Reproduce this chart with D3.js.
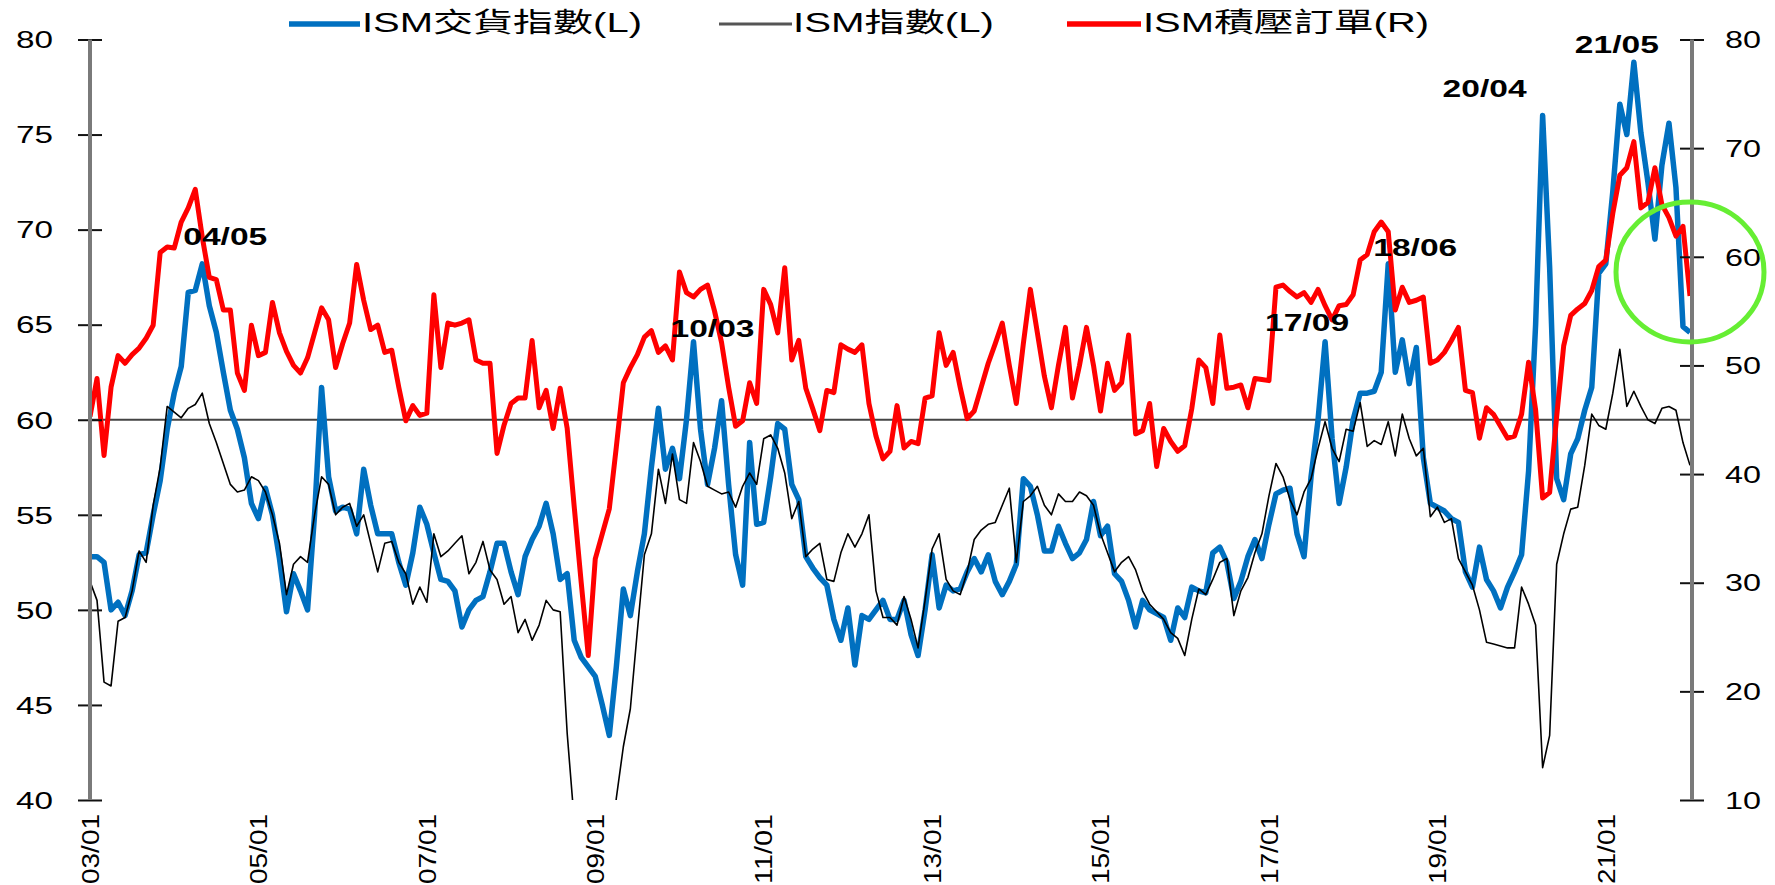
<html>
<head>
<meta http-equiv="Content-Type" content="text/html; charset=utf-8">
<title>ISM</title>
<script src="https://cdnjs.cloudflare.com/ajax/libs/d3/7.8.5/d3.min.js"></script>
<style>
body, html{
  margin: 0;
  padding: 0;
  background: white;
  overflow: hidden;
}
text{
  font-family: "Liberation Sans", Arial, "Noto Sans CJK TC", sans-serif;
}
</style>
</head>
<body>
<div id="chart"></div>
<script type="text/javascript">

// monthly, 2003/01 .. 2022/01
var startYear = 2003

var deliveries = [
  52.8,52.8,52.5,50.0,50.4,49.7,51.0,52.9,53.0,55.0,56.8,59.5,
  61.4,62.8,66.7,66.8,68.2,66.0,64.6,62.5,60.5,59.5,58.0,55.6,
  54.8,56.4,55.0,52.7,49.9,51.9,51.0,50.0,55.0,61.7,57.0,55.2,
  55.4,55.3,54.0,57.4,55.5,54.0,54.0,54.0,52.5,51.3,53.0,55.4,
  54.5,53.0,51.6,51.5,51.0,49.1,50.0,50.5,50.7,52.0,53.5,53.5,
  52.0,50.8,52.8,53.7,54.4,55.6,54.0,51.6,51.9,48.4,47.5,47.0,
  46.5,45.0,43.4,47.0,51.1,49.7,52.0,54.0,57.5,60.6,57.4,58.5,
  56.9,60.0,64.1,59.5,56.6,58.5,61.0,56.6,52.9,51.3,58.8,54.5,
  54.6,57.0,59.8,59.5,56.6,55.8,52.8,52.2,51.7,51.3,49.5,48.4,
  50.1,47.1,49.7,49.5,50.0,50.5,49.5,49.5,50.5,48.7,47.6,50.0,
  52.9,50.1,51.3,51.0,51.1,52.0,52.7,52.0,52.9,51.5,50.8,51.5,
  52.4,56.9,56.5,55.0,53.1,53.1,54.4,53.5,52.7,53.0,53.7,55.7,
  53.9,54.4,51.9,51.5,50.5,49.1,50.5,50.0,49.8,49.6,48.4,50.1,
  49.6,51.2,51.0,50.9,53.0,53.3,52.5,50.6,51.5,52.8,53.7,52.7,
  54.5,56.1,56.3,56.4,54.0,52.8,57.0,60.0,64.1,59.0,55.6,57.5,
  60.0,61.4,61.4,61.5,62.5,68.2,62.5,64.2,61.9,63.8,58.0,55.6,
  55.4,55.2,54.8,54.6,52.0,51.2,53.3,51.6,51.0,50.1,51.2,52.0,
  52.9,57.3,65.0,76.0,68.0,56.9,55.8,58.2,59.0,60.5,61.7,67.7,
  68.2,72.0,76.6,75.0,78.8,75.1,72.5,69.5,73.4,75.6,72.2,64.9,
  64.6
]

var pmi = [
  51.5,50.5,46.2,46.0,49.4,49.6,51.0,53.1,52.5,55.5,57.5,60.7,
  60.4,60.1,60.6,60.8,61.4,59.8,58.8,57.7,56.6,56.2,56.3,57.0,
  56.8,56.2,55.0,53.5,50.8,52.4,52.8,52.5,55.0,57.0,56.6,55.0,
  55.4,55.6,54.4,55.0,53.5,52.0,53.5,53.6,52.5,51.9,50.3,51.2,
  50.4,54.0,52.8,53.1,53.5,53.9,51.9,52.5,53.6,52.1,51.6,50.3,
  50.7,48.8,49.5,48.4,49.2,50.5,50.0,49.9,43.5,38.9,36.2,33.1,
  35.6,35.8,36.3,40.1,42.8,44.8,48.9,52.9,54.0,57.4,55.6,58.2,
  55.8,55.6,58.8,57.8,56.5,56.3,56.1,56.2,55.4,56.5,57.2,56.6,
  59.0,59.2,58.5,57.2,54.8,55.7,52.8,53.2,53.5,51.6,51.5,53.0,
  54.0,53.3,54.0,55.0,51.0,49.6,49.6,49.2,50.7,49.5,48.0,50.5,
  53.2,54.0,51.6,51.0,50.8,52.0,53.7,54.2,54.5,54.6,55.5,56.4,
  52.5,55.7,56.0,56.5,55.5,55.0,56.1,55.7,55.7,56.2,56.0,55.5,
  54.0,53.0,52.0,52.5,52.8,52.1,51.0,50.3,49.9,49.5,48.8,48.5,
  47.6,49.5,51.1,50.8,51.6,52.5,52.7,49.7,51.0,51.7,53.0,54.0,
  56.0,57.7,57.0,55.8,55.0,56.2,56.9,58.5,59.9,58.5,57.8,59.5,
  59.4,60.9,58.6,58.9,58.7,59.9,58.1,60.3,59.0,58.1,58.5,54.9,
  55.4,54.6,54.8,52.7,52.0,51.3,50.0,48.3,48.2,48.1,48.0,48.0,
  51.2,50.3,49.2,41.7,43.4,52.4,54.0,55.3,55.4,57.6,60.3,59.7,
  59.5,61.4,63.7,60.7,61.5,60.7,60.0,59.8,60.6,60.7,60.5,58.8,
  57.6
]

var backlog = [
  45.3,48.8,41.7,48.0,50.9,50.2,51.0,51.6,52.5,53.7,60.4,60.9,
  60.8,63.2,64.5,66.2,61.8,58.1,57.9,55.1,55.1,49.3,47.7,53.7,
  50.9,51.2,55.8,53.0,51.3,50.0,49.3,50.7,53.0,55.3,54.2,49.8,
  52.0,53.9,59.3,56.0,53.3,53.7,51.2,51.4,48.0,44.9,46.3,45.4,
  45.6,56.5,49.8,53.9,53.7,53.9,54.2,50.5,50.2,50.2,41.9,44.5,
  46.5,47.0,47.0,52.3,46.1,47.7,44.2,47.9,44.2,37.0,30.0,23.3,
  32.2,34.5,36.8,42.5,48.4,49.8,51.0,52.6,53.2,51.2,51.8,50.5,
  58.6,56.7,56.3,57.0,57.4,55.0,52.1,48.0,44.4,44.9,48.4,46.5,
  57.0,55.6,53.0,59.0,50.5,52.3,47.9,46.0,44.0,47.7,47.5,51.9,
  51.5,51.2,51.9,46.5,43.5,41.4,42.1,46.3,42.4,43.0,42.8,47.0,
  47.2,53.0,50.0,51.2,48.0,45.1,45.8,48.0,50.2,52.0,53.9,50.0,
  46.5,52.0,57.0,53.0,49.0,46.1,50.0,53.5,47.0,50.0,53.5,50.0,
  45.8,50.2,47.7,48.4,52.8,43.7,44.0,46.5,40.7,44.2,43.0,42.1,
  42.6,46.0,50.5,49.8,46.5,52.8,47.9,48.0,48.2,46.1,48.8,48.7,
  48.6,57.2,57.4,56.8,56.3,56.7,55.8,57.0,55.5,54.2,55.5,55.6,
  56.5,59.7,60.2,62.3,63.2,62.3,55.1,57.2,55.8,56.0,56.3,50.2,
  50.5,51.2,52.3,53.5,47.7,47.5,43.3,46.1,45.5,44.4,43.3,43.5,
  45.5,50.3,45.9,37.8,38.3,45.3,51.8,54.6,55.2,55.7,56.9,59.1,
  59.7,64.0,67.5,68.2,70.6,64.5,65.0,68.2,64.8,63.6,61.9,62.8,
  56.4
]

var leftTicks = [40, 45, 50, 55, 60, 65, 70, 75, 80]
var rightTicks = [10, 20, 30, 40, 50, 60, 70, 80]
var xTickMonths = [0, 24, 48, 72, 96, 120, 144, 168, 192, 216]
var xTickLabels = ["03/01", "05/01", "07/01", "09/01", "11/01", "13/01", "15/01", "17/01", "19/01", "21/01"]

var seriesNames = ["ISM交貨指數(L)", "ISM指數(L)", "ISM積壓訂單(R)"]

// peaks of the deliveries line that carry a date label
var peakMonths = [16, 86, 176, 185, 207, 220]
var peakLabels = ["04/05", "10/03", "17/09", "18/06", "20/04", "21/05"]

var W = 1775, H = 885
var plotL = 90, plotR = 1692, plotT = 39.5, plotB = 800

var svg = d3.select("#chart").append("svg")
  .attr("width", W)
  .attr("height", H)

svg.append("defs").append("clipPath").attr("id", "plot")
  .append("rect")
  .attr("x", plotL).attr("y", plotT)
  .attr("width", plotR - plotL).attr("height", plotB - plotT)

var x = d3.scaleLinear().domain([0, 228]).range([plotL, 1690])
var yL = d3.scaleLinear().domain([40, 80]).range([plotB, plotT])
var yR = d3.scaleLinear().domain([10, 80]).range([plotB, plotT])

// reference line at 60
svg.append("line")
  .attr("x1", plotL).attr("x2", plotR)
  .attr("y1", yL(60)).attr("y2", yL(60))
  .style("stroke", "#444")
  .style("stroke-width", 1.8)

var lineL = d3.line()
  .x(function(d, i) { return x(i) })
  .y(function(d) { return yL(d) })
var lineR = d3.line()
  .x(function(d, i) { return x(i) })
  .y(function(d) { return yR(d) })

var plot = svg.append("g").attr("clip-path", "url(#plot)")

plot.append("path")
  .attr("d", lineL(deliveries))
  .style("fill", "none")
  .style("stroke", "#0070c0")
  .style("stroke-width", 5.5)
  .style("stroke-linejoin", "round")

plot.append("path")
  .attr("d", lineL(pmi))
  .style("fill", "none")
  .style("stroke", "#000")
  .style("stroke-width", 1.6)
  .style("stroke-linejoin", "round")

plot.append("path")
  .attr("d", lineR(backlog))
  .style("fill", "none")
  .style("stroke", "#ff0000")
  .style("stroke-width", 5)
  .style("stroke-linejoin", "round")

// axes
var axL = svg.append("g")
  .attr("transform", "translate(" + plotL + ",0)")
  .call(d3.axisLeft(yL).tickValues(leftTicks).tickSize(12))
var axR = svg.append("g")
  .attr("transform", "translate(" + plotR + ",0)")
  .call(d3.axisRight(yR).tickValues(rightTicks).tickSize(12))

axL.select(".domain").remove()
axR.select(".domain").remove()
svg.append("line")
  .attr("x1", plotL).attr("x2", plotL).attr("y1", plotT).attr("y2", plotB)
  .style("stroke", "#7a7a7a").style("stroke-width", 4)
svg.append("line")
  .attr("x1", plotR).attr("x2", plotR).attr("y1", plotT).attr("y2", plotB)
  .style("stroke", "#7a7a7a").style("stroke-width", 4)

svg.selectAll(".tick line")
  .attr("x1", -12).attr("x2", 12)
  .style("stroke", "#111")
  .style("stroke-width", 2)

axL.selectAll(".tick text")
  .attr("x", -37)
  .attr("dy", "0.36em")
  .attr("text-anchor", "end")
  .attr("textLength", 37)
  .attr("lengthAdjust", "spacingAndGlyphs")
  .style("font-size", "23px")
  .style("fill", "#000")
axR.selectAll(".tick text")
  .attr("x", 33)
  .attr("dy", "0.36em")
  .attr("text-anchor", "start")
  .attr("textLength", 36)
  .attr("lengthAdjust", "spacingAndGlyphs")
  .style("font-size", "23px")
  .style("fill", "#000")

var axB = svg.append("g")
  .attr("transform", "translate(0," + plotB + ")")
  .call(d3.axisBottom(x).tickValues(xTickMonths)
    .tickFormat(function(d, i) { return xTickLabels[i] })
    .tickSize(0))
axB.select(".domain").remove()
axB.selectAll(".tick text")
  .attr("x", 0).attr("y", 0)
  .attr("dy", "0.36em")
  .attr("transform", "translate(0,14) rotate(-90)")
  .attr("text-anchor", "end")
  .attr("textLength", 70)
  .attr("lengthAdjust", "spacingAndGlyphs")
  .style("font-size", "23px")
  .style("fill", "#000")

// peak labels
var nudge = [[23, -19], [19, -5], [-18, -11], [27, -8], [-58, -19], [-17, -9]]
svg.selectAll(".peak")
  .data(peakLabels)
  .enter().append("text")
  .attr("class", "peak")
  .attr("x", function(d, i) { return x(peakMonths[i]) + nudge[i][0] })
  .attr("y", function(d, i) { return yL(deliveries[peakMonths[i]]) + nudge[i][1] })
  .attr("text-anchor", "middle")
  .attr("textLength", 84)
  .attr("lengthAdjust", "spacingAndGlyphs")
  .style("font-size", "24px")
  .style("font-weight", "bold")
  .style("fill", "#000")
  .text(function(d) { return d })

// legend
var legend = [
  {x1: 289, x2: 360, tx: 362, tl: 280, color: "#0070c0", w: 5.5},
  {x1: 719, x2: 792, tx: 793, tl: 201, color: "#555", w: 3},
  {x1: 1067, x2: 1141, tx: 1143, tl: 286, color: "#ff0000", w: 5.5}
]
var lg = svg.selectAll(".legend")
  .data(legend)
  .enter().append("g")
  .attr("class", "legend")
lg.append("line")
  .attr("x1", function(d) { return d.x1 })
  .attr("x2", function(d) { return d.x2 })
  .attr("y1", 24).attr("y2", 24)
  .style("stroke", function(d) { return d.color })
  .style("stroke-width", function(d) { return d.w })
lg.append("text")
  .attr("x", function(d) { return d.tx })
  .attr("y", 32)
  .attr("textLength", function(d) { return d.tl })
  .attr("lengthAdjust", "spacingAndGlyphs")
  .style("font-size", "27px")
  .style("fill", "#000")
  .text(function(d, i) { return seriesNames[i] })

// highlight on the latest readings
svg.append("ellipse")
  .attr("cx", 1690).attr("cy", 272)
  .attr("rx", 74).attr("ry", 70)
  .style("fill", "none")
  .style("stroke", "#66ee33")
  .style("stroke-width", 5)

</script>
</body>
</html>
